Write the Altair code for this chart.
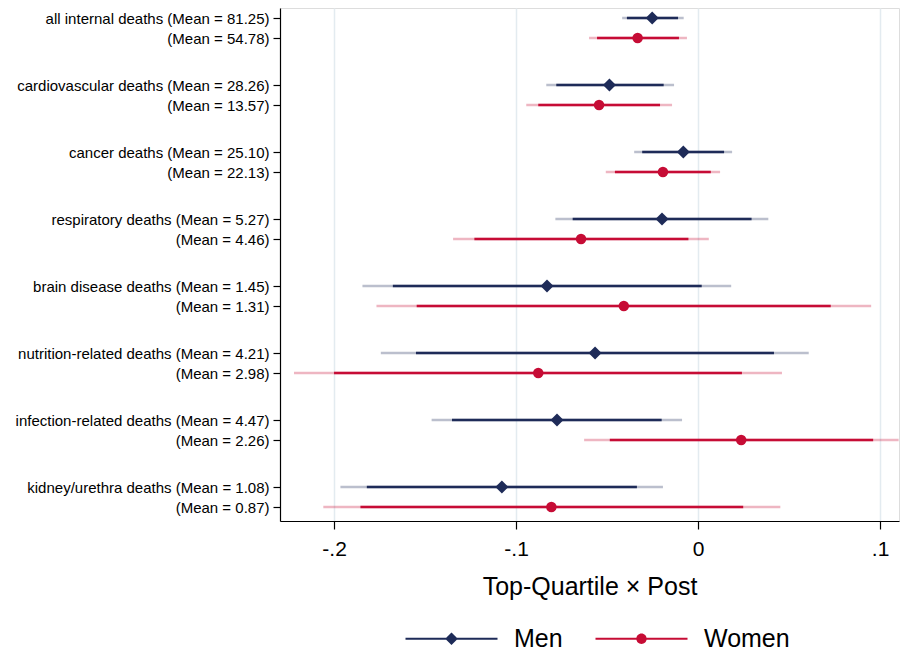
import json
import altair as alt
import pandas as pd

causes = ["all internal deaths", "cardiovascular deaths", "cancer deaths", "respiratory deaths",
          "brain disease deaths", "nutrition-related deaths", "infection-related deaths",
          "kidney/urethra deaths"]
men_mean = ["81.25", "28.26", "25.10", "5.27", "1.45", "4.21", "4.47", "1.08"]
women_mean = ["54.78", "13.57", "22.13", "4.46", "1.31", "2.98", "2.26", "0.87"]

men_coef = [-0.0252, -0.0487, -0.0081, -0.0198, -0.0830, -0.0566, -0.0775, -0.1078]
men_lo95 = [-0.0417, -0.0834, -0.0351, -0.0784, -0.1844, -0.1743, -0.1464, -0.1965]
men_hi95 = [-0.0079, -0.0132, 0.0187, 0.0386, 0.0182, 0.0608, -0.0088, -0.0193]
men_lo90 = [-0.0391, -0.0779, -0.0307, -0.0689, -0.1677, -0.1550, -0.1352, -0.1820]
men_hi90 = [-0.0110, -0.0189, 0.0143, 0.0294, 0.0020, 0.0417, -0.0200, -0.0336]

women_coef = [-0.0332, -0.0544, -0.0193, -0.0643, -0.0408, -0.0878, 0.0237, -0.0806]
women_lo95 = [-0.0599, -0.0944, -0.0507, -0.1346, -0.1767, -0.2220, -0.0626, -0.2059]
women_hi95 = [-0.0061, -0.0143, 0.0121, 0.0059, 0.0951, 0.0461, 0.1102, 0.0452]
women_lo90 = [-0.0555, -0.0878, -0.0457, -0.1229, -0.1546, -0.2000, -0.0485, -0.1855]
women_hi90 = [-0.0105, -0.0209, 0.0070, -0.0053, 0.0729, 0.0241, 0.0962, 0.0248]

x_ticks = [-0.2, -0.1, 0, 0.1]
series = ["Men", "Women"]

NAVY = "#1e2b58"
RED = "#c60c35"
COLORS = {"Men": NAVY, "Women": RED}
GROUP_GAP = 67
PAIR_GAP = 20

rows = []
positions = []
labels = []
for i, c in enumerate(causes):
    pm = i * GROUP_GAP
    pw = i * GROUP_GAP + PAIR_GAP
    rows.append(dict(sex="Men", pos=pm, coef=men_coef[i], lo95=men_lo95[i], hi95=men_hi95[i],
                     lo90=men_lo90[i], hi90=men_hi90[i]))
    rows.append(dict(sex="Women", pos=pw, coef=women_coef[i], lo95=women_lo95[i], hi95=women_hi95[i],
                     lo90=women_lo90[i], hi90=women_hi90[i]))
    positions += [pm, pw]
    labels += [f"{c} (Mean = {men_mean[i]})", f"(Mean = {women_mean[i]})"]

df = pd.DataFrame(rows)

label_expr = f"{json.dumps(labels)}[indexof({json.dumps(positions)}, datum.value)]"

FONT = "Liberation Sans"

xscale = alt.Scale(domain=[-0.2297, 0.1104], nice=False, zero=False)
yscale = alt.Scale(domain=[-10, 503], reverse=True, nice=False, zero=False)
cscale = alt.Scale(domain=series, range=[NAVY, RED])

x_axis = alt.Axis(values=x_ticks, title="Top-Quartile × Post", grid=True,
                  gridColor="#e3ebf0", gridWidth=1.5,
                  labelExpr="(datum.value < 0 ? '-' : '') + (datum.value == 0 ? '0' : replace(format(abs(datum.value), '.1f'), '0.', '.'))",
                  labelFontSize=21, labelFont=FONT, labelColor="#000000", labelPadding=9,
                  tickSize=8, tickColor="#000000", domainColor="#000000", tickWidth=1.2, domainWidth=1.2,
                  titleFontSize=25, titleFont=FONT, titleFontWeight="normal", titleColor="#000000",
                  titlePadding=15)
y_axis = alt.Axis(values=positions, tickCount=len(positions) + 4, labelExpr=label_expr, title=None, grid=False,
                  labelFontSize=15, labelFont=FONT, labelColor="#000000", labelPadding=4,
                  labelLimit=0, labelOverlap=False, labelBound=False,
                  tickSize=7, tickColor="#000000", domainColor="#000000", tickWidth=1.2, domainWidth=1.2)

base = alt.Chart(df)

layers = []
first = True
for s in series:
    sub = base.transform_filter(alt.datum.sex == s)
    if first:
        outer = sub.mark_rule(strokeWidth=2.5, strokeOpacity=0.3, color=COLORS[s]).encode(
            x=alt.X("lo95:Q", scale=xscale, axis=x_axis),
            x2="hi95:Q",
            y=alt.Y("pos:Q", scale=yscale, axis=y_axis),
        )
        first = False
    else:
        outer = sub.mark_rule(strokeWidth=2.5, strokeOpacity=0.3, color=COLORS[s]).encode(
            x="lo95:Q", x2="hi95:Q", y="pos:Q")
    inner = sub.mark_rule(strokeWidth=2.5, color=COLORS[s]).encode(
        x="lo90:Q", x2="hi90:Q", y="pos:Q")
    if s == "Men":
        pts = sub.mark_point(shape="diamond", filled=True, size=170, opacity=1,
                             strokeWidth=0, color=COLORS[s]).encode(x="coef:Q", y="pos:Q")
    else:
        pts = sub.mark_point(shape="circle", filled=True, size=110, opacity=1,
                             strokeWidth=0, color=COLORS[s]).encode(x="coef:Q", y="pos:Q")
    layers += [outer, inner, pts]

men_path = "M-4,-0.09H4V0.09H-4Z M-0.55,0L0,-0.55L0.55,0L0,0.55Z"
women_path = "M-4,-0.09H4V0.09H-4Z M0.45,0A0.45,0.45 0 1,1 -0.45,0A0.45,0.45 0 1,1 0.45,0Z"

legend = alt.Legend(orient="none", legendX=159, legendY=618, direction="horizontal", title=None,
                    symbolSize=529, symbolStrokeWidth=0, symbolOpacity=1, padding=0,
                    labelFontSize=25, labelFont=FONT, labelColor="#000000",
                    labelOffset=50, columnPadding=32)
legend_layer = base.mark_point(filled=True, size=529, opacity=1, clip=True).encode(
    x=alt.value(-300), y="pos:Q",
    color=alt.Color("sex:N", scale=cscale, legend=legend),
    shape=alt.Shape("sex:N", scale=alt.Scale(domain=series, range=[men_path, women_path]), legend=legend),
)
layers.append(legend_layer)

chart = alt.layer(*layers).properties(
    width=619, height=513,
    padding={"left": 7, "top": 0, "right": 0, "bottom": 0},
).configure_view(stroke=None).configure(font=FONT)

chart.save("out.html", embed_options={"renderer": "svg", "actions": False})
